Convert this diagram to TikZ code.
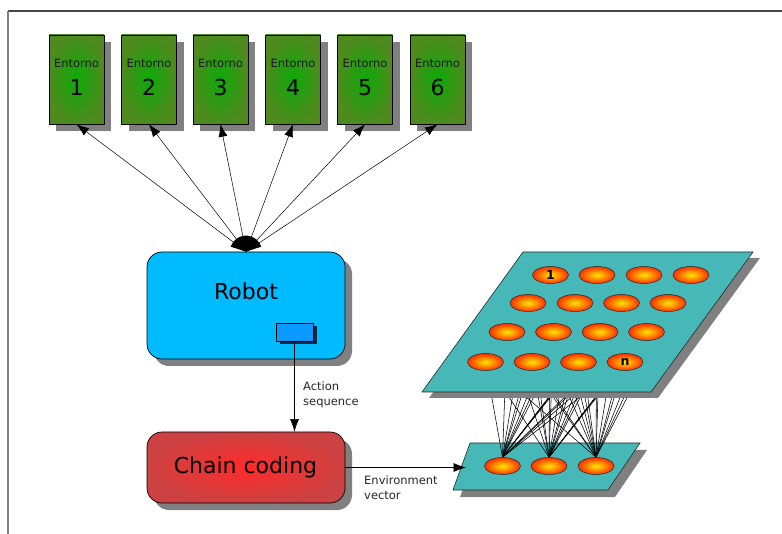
\documentclass[tikz,border=0pt]{standalone}
\usepackage{fontspec}
\setmainfont{DejaVu Sans}
\usetikzlibrary{shapes.geometric,shadows,arrows.meta}

\definecolor{shadowgray}{HTML}{808080}
\definecolor{envouter}{HTML}{4E8A1E}
\definecolor{envinner}{HTML}{0CAA08}
\definecolor{robotblue}{HTML}{00BBFF}
\definecolor{actblue}{HTML}{0A99FF}
\definecolor{actshadow}{HTML}{0E2A44}
\definecolor{chaininner}{HTML}{FF2A2A}
\definecolor{chainouter}{HTML}{CC4242}
\definecolor{planeteal}{HTML}{47B8B8}
\definecolor{unitinner}{HTML}{FFE800}
\definecolor{unitouter}{HTML}{FF2E00}
\definecolor{framegray}{HTML}{444444}

\pgfdeclarelayer{lowplane}
\pgfdeclarelayer{wires}
\pgfsetlayers{lowplane,wires,main}

\tikzset{
  grayshadow/.style={drop shadow={shadow xshift=#1, shadow yshift=-#1, fill=shadowgray, opacity=1}},
  envbox/.style={draw=black, line width=0.6pt, shading=radial, inner color=envinner,
    outer color=envouter, minimum width=55pt, minimum height=89pt, inner sep=0pt,
    grayshadow=7pt},
  envtext/.style={font=\fontsize{11.5}{12}\selectfont, text=black!90, inner sep=0pt, anchor=base},
  envnum/.style={font=\fontsize{22}{24}\selectfont, inner sep=0pt, anchor=base},
  bigbox/.style={draw=black, line width=0.7pt, rounded corners=15pt,
    minimum width=198pt, inner sep=0pt, grayshadow=7pt},
  bigtext/.style={font=\fontsize{22}{24}\selectfont, inner sep=0pt, anchor=base},
  smalltext/.style={font=\fontsize{11.5}{15}\selectfont, text=black!85, inner sep=0pt, anchor=base west, align=left},
  unit/.style={ellipse, draw=black!85, line width=0.5pt, shading=radial,
    inner color=unitinner, outer color=unitouter, minimum width=36pt,
    minimum height=17pt, inner sep=0pt, font=\fontsize{12.5}{13}\selectfont\bfseries},
  plane/.style={fill=planeteal, draw=black!85, line width=0.6pt},
  arrowline/.style={draw=black, line width=0.5pt, -{Latex[length=12.5pt,width=9pt]}},
  wire/.style={draw=black, line width=0.55pt},
}

\begin{document}
\begin{tikzpicture}[x=1pt, y=-1pt]
\useasboundingbox (0,0) rectangle (782,534);

% page frame
\draw[framegray, line width=1.4pt] (8,11) -- (782,11);
\draw[shadowgray, line width=1.4pt] (8,11) -- (8,534);

% environments
\foreach \i/\x in {1/76.5,2/149,3/220.5,4/293,5/365,6/437.5} {
  \node[envbox] (e\i) at (\x,79.5) {};
  \node[envtext] (et\i) at (\x,68) {Entorno};
  \node[envnum] (en\i) at (\x,96) {\i};
}

% robot with its action output
\node[bigbox, fill=robotblue, minimum height=107pt] (robot) at (246,305.5) {};
\node[bigtext] (robotlabel) at (246,300) {Robot};
\node[draw=black, line width=0.6pt, fill=actblue, minimum width=37pt, minimum height=18pt,
  inner sep=0pt, drop shadow={shadow xshift=4pt, shadow yshift=-3.5pt, fill=actshadow, opacity=1}]
  (act) at (294.5,332) {};

% robot senses all environments
\foreach \i in {1,...,6}
  \draw[arrowline] (robot.north) -- (e\i.south);
\fill (robot.north) -- ++(162:16pt) arc[start angle=162, end angle=18, radius=16pt] -- cycle;

% chain coding block
\node[bigbox, shading=radial, inner color=chaininner, outer color=chainouter,
  minimum height=71pt] (chain) at (246,467.5) {};
\node[bigtext] (chainlabel) at (245.5,474) {Chain coding};

\draw[arrowline] (act.south) -- (act.south |- chain.north);
\node[smalltext] (actlabel) at (303,406) {Action\\sequence};

% upper layer of the network
\fill[shadowgray] (530,258) -- (760,258) -- (658,398) -- (429,398) -- cycle;
\path[plane] (523,252) -- (753,252) -- (651,392) -- (422,392) -- cycle;
\foreach \n/\x/\y/\t in {
   1/550.5/275/1, 2/597/275/, 3/644/275/, 4/691/275/,
   5/528/303/, 6/575/303/, 7/621.5/303/, 8/668/303/,
   9/507/332/, 10/553.5/332/, 11/600/332/, 12/646.5/332/,
   13/485.5/362/, 14/532/362/, 15/578.5/362/, 16/625/362/n}
  \node[unit] (u\n) at (\x,\y) {\t};

% lower layer of the network
\begin{pgfonlayer}{lowplane}
  \fill[shadowgray] (477,450) -- (647,450) -- (615,497) -- (460,497) -- cycle;
  \path[plane] (470,443) -- (640,443) -- (608,490) -- (453,490) -- cycle;
\end{pgfonlayer}
\foreach \n/\x in {1/502.5, 2/549, 3/596}
  \node[unit] (l\n) at (\x,466) {};

% full connections between the two layers
\begin{pgfonlayer}{wires}
  \foreach \a in {1,...,16}
    \foreach \b in {1,2,3}
      \draw[wire] (u\a.center) -- (l\b.north);
\end{pgfonlayer}

% environment vector into the network
\coordinate (envin) at (466,467.5);
\draw[arrowline] (chain.east) -- (envin);
\node[smalltext] (envlabel) at (364,499) {Environment\\vector};

\end{tikzpicture}
\end{document}
